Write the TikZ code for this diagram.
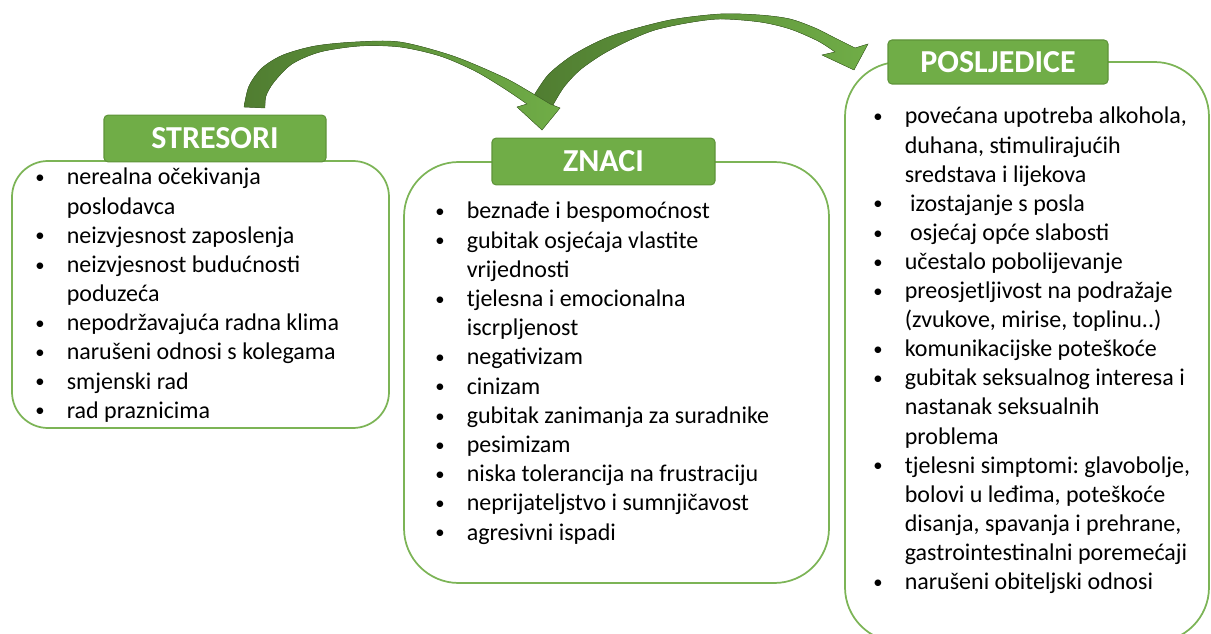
\documentclass[tikz,border=0pt]{standalone}
\usepackage{fontspec}
\setmainfont{Carlito}
\frenchspacing
\definecolor{hdrgreen}{HTML}{70AD47}
\definecolor{hdrline}{HTML}{5E9439}
\definecolor{boxline}{HTML}{7CB456}
\definecolor{arrdark}{HTML}{507D31}
\definecolor{arrlight}{HTML}{70AD47}
\newcommand\bitem[4]{%
  \node[bul] (#1b) at (#2,#3) {\raisebox{1pt}{•}};
  \node[itm] (#1) at ({#2+26.5},#3) {#4};}
\begin{document}
\begin{tikzpicture}[x=0.75pt,y=-0.75pt,
  box/.style={draw=boxline, line width=1.3pt, fill=white, rectangle, inner sep=0pt},
  hdr/.style={draw=hdrline, line width=0.8pt, fill=hdrgreen, rounded corners=3pt,
    text=white, font=\fontsize{24}{28}\selectfont\bfseries,
    text height=15.5pt, text depth=0pt, inner sep=0pt},
  bul/.style={anchor=base, inner sep=0pt, font=\fontsize{14}{18}\selectfont},
  itm/.style={anchor=base west, inner sep=0pt, font=\fontsize{18}{22}\selectfont\frenchspacing},
  arr/.style={left color=arrdark, right color=arrlight, draw=arrdark!85!black, line width=0.3pt}]
\clip (0,0) rectangle (1211,634);

% boxes
\node[box, minimum width=282.75pt, minimum height=200.25pt, rounded corners=27pt] (sbox) at (200.5,294.5) {};
\node[box, minimum width=318.75pt, minimum height=315.75pt, rounded corners=41pt] (zbox) at (616.5,372.5) {};
\node[box, minimum width=273pt, minimum height=435pt, rounded corners=41pt] (pbox) at (1027,352) {};

% headers
\node[hdr, minimum width=166.5pt, minimum height=35pt] (sh) at (215,138.5) {STRESORI};
\node[hdr, minimum width=167.25pt, minimum height=35pt] (zh) at (603.5,161.5) {ZNACI};
\node[hdr, minimum width=165pt, minimum height=33pt] (ph) at (998,62) {POSLJEDICE};

% arrow 2 (ZNACI -> POSLJEDICE)
\fill[arr] plot[smooth] coordinates {(533,97) (548,75) (570,57) (595,43) (620,33) (670,20) (720,14) (760,15) (790,19) (815,28) (835,38) (855,48)}
  -- (868,44) -- (854,70) -- (822,55) --
  plot[smooth] coordinates {(835,52) (818,41) (790,29) (760,22) (720,19) (687,23) (655,30) (630,40) (603,54) (580,70) (564,87) (553,105)} -- cycle;

% arrow 1 (STRESORI -> ZNACI)
\fill[arr] plot[smooth] coordinates {(244,107) (249,86) (262,68) (283,55) (315,46) (355,42) (400,42) (453,56) (503,77) (530,92) (550,104)}
  -- (560,108) -- (542,130) -- (517,107) --
  plot[smooth] coordinates {(527,104) (505,89) (475,71) (440,56) (400,47) (360,46) (320,52) (292,64) (274,82) (266,96) (265,108)} -- cycle;

% STRESORI items
\bitem{s1}{40}{185}{nerealna očekivanja}
\node[itm] (s1c) at (66.5,214.2) {poslodavca};
\bitem{s2}{40}{243.3}{neizvjesnost zaposlenja}
\bitem{s3}{40}{272.5}{neizvjesnost budućnosti}
\node[itm] (s3c) at (66.5,301.6) {poduzeća};
\bitem{s4}{40}{330.8}{nepodržavajuća radna klima}
\bitem{s5}{40}{359.9}{narušeni odnosi s kolegama}
\bitem{s6}{40}{389.1}{smjenski rad}
\bitem{s7}{40}{418.2}{rad praznicima}

% ZNACI items
\bitem{z1}{440}{219}{beznađe i bespomoćnost}
\bitem{z2}{440}{248.2}{gubitak osjećaja vlastite}
\node[itm] (z2c) at (466.5,277.4) {vrijednosti};
\bitem{z3}{440}{306.6}{tjelesna i emocionalna}
\node[itm] (z3c) at (466.5,335.8) {iscrpljenost};
\bitem{z4}{440}{365}{negativizam}
\bitem{z5}{440}{394.2}{cinizam}
\bitem{z6}{440}{423.4}{gubitak zanimanja za suradnike}
\bitem{z7}{440}{452.6}{pesimizam}
\bitem{z8}{440}{481.8}{niska tolerancija na frustraciju}
\bitem{z9}{440}{511}{neprijateljstvo i sumnjičavost}
\bitem{z10}{440}{540.2}{agresivni ispadi}

% POSLJEDICE items
\bitem{p1}{878}{124}{povećana upotreba alkohola,}
\node[itm] (p1c) at (904.5,153.1) {duhana, stimulirajućih};
\node[itm] (p1d) at (904.5,182.2) {sredstava i lijekova};
\bitem{p2}{878}{211.3}{\hspace{4pt}izostajanje s posla}
\bitem{p3}{878}{240.4}{\hspace{4pt}osjećaj opće slabosti}
\bitem{p4}{878}{269.5}{učestalo pobolijevanje}
\bitem{p5}{878}{298.6}{preosjetljivost na podražaje}
\node[itm] (p5c) at (904.5,327.7) {(zvukove, mirise, toplinu..)};
\bitem{p6}{878}{356.8}{komunikacijske poteškoće}
\bitem{p7}{878}{385.9}{gubitak seksualnog interesa i}
\node[itm] (p7c) at (904.5,415) {nastanak seksualnih};
\node[itm] (p7d) at (904.5,444.1) {problema};
\bitem{p8}{878}{473.2}{tjelesni simptomi: glavobolje,}
\node[itm] (p8c) at (904.5,502.3) {bolovi u leđima, poteškoće};
\node[itm] (p8d) at (904.5,531.4) {disanja, spavanja i prehrane,};
\node[itm] (p8e) at (904.5,560.5) {gastrointestinalni poremećaji};
\bitem{p9}{878}{589.6}{narušeni obiteljski odnosi}
\end{tikzpicture}
\end{document}
